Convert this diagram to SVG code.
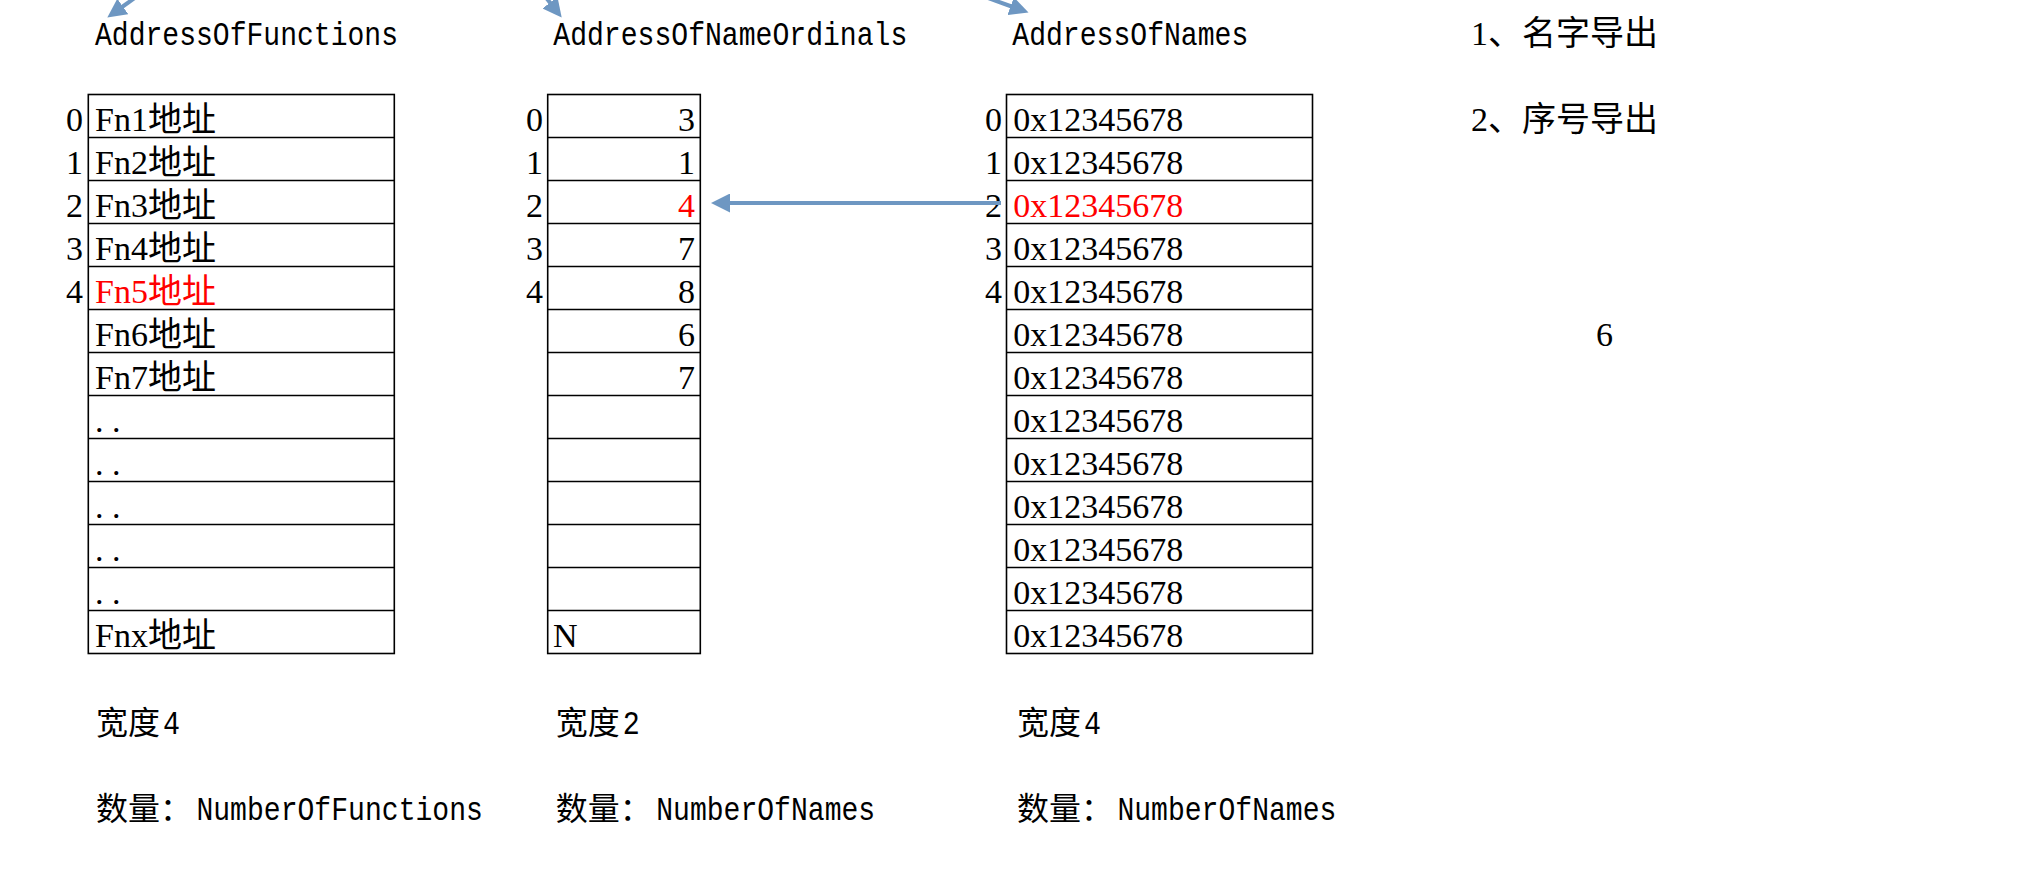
<svg xmlns="http://www.w3.org/2000/svg" width="2037" height="870" viewBox="0 0 2037 870">
<style>
.bg{fill:#ffffff}
.tbl{fill:none;stroke:#000;stroke-width:1.6}
.cell{font-family:"Liberation Serif","Noto Sans CJK SC",serif;font-size:34px;fill:#000}
.idx{font-family:"Liberation Serif","Noto Sans CJK SC",serif;font-size:34px;fill:#000;text-anchor:end}
.val{text-anchor:end}
.red{fill:#ff0000}
.mono{font-family:"Liberation Mono",monospace;font-size:33px;fill:#000}
.cjk{font-family:"Noto Sans CJK SC",sans-serif;font-size:32px;fill:#000}
.conn{fill:none;stroke:#6e97c2;stroke-width:4}
</style>
<defs>
<marker id="ah" viewBox="0 0 19 19" refX="1" refY="9.5" markerWidth="19" markerHeight="19" markerUnits="userSpaceOnUse" orient="auto">
<path d="M0,0 L19,9.5 L0,19 z" fill="#6e97c2"/>
</marker>
</defs>
<rect class="bg" x="0" y="0" width="2037" height="870"/>

<g id="addressOfFunctions">
<text class="mono" x="95" y="45" textLength="303" lengthAdjust="spacingAndGlyphs">AddressOfFunctions</text>
<rect class="tbl" x="88.3" y="94.5" width="306" height="559"/>
<path class="tbl" d="M88.3 137.5H394.3M88.3 180.5H394.3M88.3 223.5H394.3M88.3 266.5H394.3M88.3 309.5H394.3M88.3 352.5H394.3M88.3 395.5H394.3M88.3 438.5H394.3M88.3 481.5H394.3M88.3 524.5H394.3M88.3 567.5H394.3M88.3 610.5H394.3"/>
<text class="idx" x="83" y="131">0</text>
<text class="idx" x="83" y="174">1</text>
<text class="idx" x="83" y="217">2</text>
<text class="idx" x="83" y="260">3</text>
<text class="idx" x="83" y="303">4</text>
<text class="cell" x="95" y="131">Fn1地址</text>
<text class="cell" x="95" y="174">Fn2地址</text>
<text class="cell" x="95" y="217">Fn3地址</text>
<text class="cell" x="95" y="260">Fn4地址</text>
<text class="cell red" x="95" y="303">Fn5地址</text>
<text class="cell" x="95" y="346">Fn6地址</text>
<text class="cell" x="95" y="389">Fn7地址</text>
<text class="cell" x="95" y="432" letter-spacing="8.5">..</text>
<text class="cell" x="95" y="475" letter-spacing="8.5">..</text>
<text class="cell" x="95" y="518" letter-spacing="8.5">..</text>
<text class="cell" x="95" y="561" letter-spacing="8.5">..</text>
<text class="cell" x="95" y="604" letter-spacing="8.5">..</text>
<text class="cell" x="95" y="647">Fnx地址</text>
<text class="cjk" x="96" y="734">宽度<tspan class="mono" x="163" textLength="17" lengthAdjust="spacingAndGlyphs">4</tspan></text>
<text class="cjk" x="96" y="820">数量：<tspan class="mono" x="196.4" textLength="286.5" lengthAdjust="spacingAndGlyphs">NumberOfFunctions</tspan></text>
</g>

<g id="addressOfNameOrdinals">
<text class="mono" x="553.3" y="45" textLength="354" lengthAdjust="spacingAndGlyphs">AddressOfNameOrdinals</text>
<rect class="tbl" x="547.7" y="94.5" width="152.6" height="559"/>
<path class="tbl" d="M547.7 137.5H700.3M547.7 180.5H700.3M547.7 223.5H700.3M547.7 266.5H700.3M547.7 309.5H700.3M547.7 352.5H700.3M547.7 395.5H700.3M547.7 438.5H700.3M547.7 481.5H700.3M547.7 524.5H700.3M547.7 567.5H700.3M547.7 610.5H700.3"/>
<text class="idx" x="543" y="131">0</text>
<text class="idx" x="543" y="174">1</text>
<text class="idx" x="543" y="217">2</text>
<text class="idx" x="543" y="260">3</text>
<text class="idx" x="543" y="303">4</text>
<text class="cell val" x="695" y="131">3</text>
<text class="cell val" x="695" y="174">1</text>
<text class="cell val red" x="695" y="217">4</text>
<text class="cell val" x="695" y="260">7</text>
<text class="cell val" x="695" y="303">8</text>
<text class="cell val" x="695" y="346">6</text>
<text class="cell val" x="695" y="389">7</text>
<text class="cell" x="553" y="647">N</text>
<text class="cjk" x="555.8" y="734">宽度<tspan class="mono" x="622.8" textLength="17" lengthAdjust="spacingAndGlyphs">2</tspan></text>
<text class="cjk" x="555.8" y="820">数量：<tspan class="mono" x="656.2" textLength="219" lengthAdjust="spacingAndGlyphs">NumberOfNames</tspan></text>
</g>

<g id="addressOfNames">
<text class="mono" x="1012.3" y="45" textLength="236" lengthAdjust="spacingAndGlyphs">AddressOfNames</text>
<rect class="tbl" x="1006.5" y="94.5" width="306" height="559"/>
<path class="tbl" d="M1006.5 137.5H1312.5M1006.5 180.5H1312.5M1006.5 223.5H1312.5M1006.5 266.5H1312.5M1006.5 309.5H1312.5M1006.5 352.5H1312.5M1006.5 395.5H1312.5M1006.5 438.5H1312.5M1006.5 481.5H1312.5M1006.5 524.5H1312.5M1006.5 567.5H1312.5M1006.5 610.5H1312.5"/>
<text class="idx" x="1002" y="131">0</text>
<text class="idx" x="1002" y="174">1</text>
<text class="idx" x="1002" y="217">2</text>
<text class="idx" x="1002" y="260">3</text>
<text class="idx" x="1002" y="303">4</text>
<text class="cell" x="1013.3" y="131">0x12345678</text>
<text class="cell" x="1013.3" y="174">0x12345678</text>
<text class="cell red" x="1013.3" y="217">0x12345678</text>
<text class="cell" x="1013.3" y="260">0x12345678</text>
<text class="cell" x="1013.3" y="303">0x12345678</text>
<text class="cell" x="1013.3" y="346">0x12345678</text>
<text class="cell" x="1013.3" y="389">0x12345678</text>
<text class="cell" x="1013.3" y="432">0x12345678</text>
<text class="cell" x="1013.3" y="475">0x12345678</text>
<text class="cell" x="1013.3" y="518">0x12345678</text>
<text class="cell" x="1013.3" y="561">0x12345678</text>
<text class="cell" x="1013.3" y="604">0x12345678</text>
<text class="cell" x="1013.3" y="647">0x12345678</text>
<text class="cjk" x="1017" y="734">宽度<tspan class="mono" x="1084" textLength="17" lengthAdjust="spacingAndGlyphs">4</tspan></text>
<text class="cjk" x="1017" y="820">数量：<tspan class="mono" x="1117.4" textLength="219" lengthAdjust="spacingAndGlyphs">NumberOfNames</tspan></text>
</g>

<g id="notes">
<text class="cell" x="1471" y="45">1、名字导出</text>
<text class="cell" x="1471" y="131">2、序号导出</text>
<text class="cell" x="1596" y="346">6</text>
</g>

<g id="connectors">
<line class="conn" x1="1001" y1="203" x2="729" y2="203" marker-end="url(#ah)"/>
<line class="conn" x1="156.3" y1="-17.4" x2="122" y2="7" marker-end="url(#ah)"/>
<line class="conn" x1="524.5" y1="-30" x2="550.6" y2="3.4" marker-end="url(#ah)"/>
<line class="conn" x1="972" y1="-7.8" x2="1011.6" y2="6.5" marker-end="url(#ah)"/>
</g>
</svg>
